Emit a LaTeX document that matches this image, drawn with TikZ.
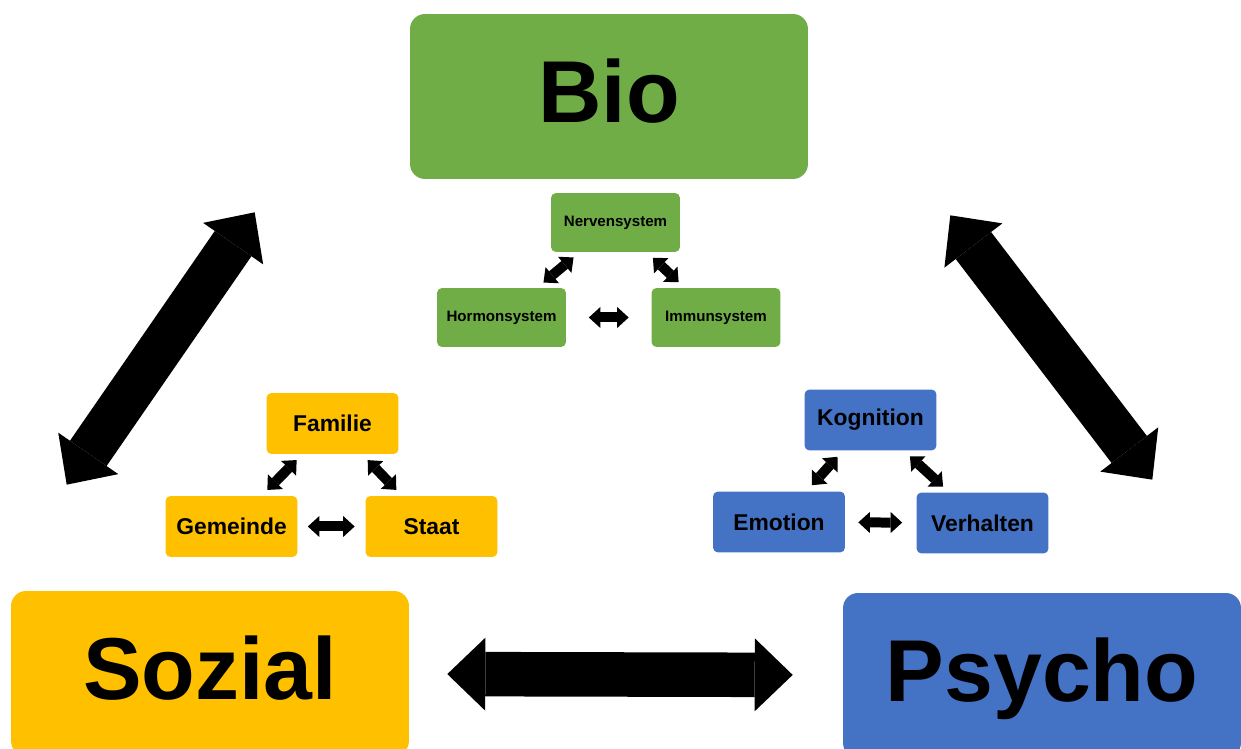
\documentclass[tikz,border=0pt]{standalone}
\usepackage{fontspec}
\setmainfont{Liberation Sans}
\usepackage{tikz}
\usetikzlibrary{arrows.meta, positioning}
\definecolor{biogreen}{RGB}{112,173,71}
\definecolor{sozgold}{RGB}{255,192,0}
\definecolor{psyblue}{RGB}{68,114,196}

\begin{document}
\begin{tikzpicture}[
   x=0.02cm, y=-0.02cm,
   big/.style={rounded corners=0.3cm, minimum width=7.96cm, minimum height=3.3cm,
               inner sep=0pt, text height=1.26cm, text depth=0.2cm,
               font=\fontsize{50}{60}\selectfont\bfseries},
   sub/.style={rounded corners=0.1cm, align=center, inner sep=0pt,
               minimum width=2.64cm, minimum height=1.22cm,
               font=\fontsize{13}{15}\selectfont\bfseries},
   biosub/.style={sub, fill=biogreen, minimum width=2.58cm, minimum height=1.18cm,
               font=\fontsize{8.6}{10}\selectfont\bfseries},
   bigarr/.style={line width=0.89cm,
               {Triangle[length=0.76cm, width=1.46cm, line width=0pt]}-{Triangle[length=0.76cm, width=1.46cm, line width=0pt]}},
   arr/.style={line width=0.2cm,
               {Triangle[length=0.23cm, width=0.42cm, line width=0pt]}-{Triangle[length=0.23cm, width=0.42cm, line width=0pt]},
               shorten <=0.16cm, shorten >=0.16cm}]

  \useasboundingbox (0,0) rectangle (1241,749);

  \node[big, fill=biogreen] (bio) at (609,96.5) {Bio};
  \node[big, fill=sozgold] (sozial) at (210,673.5) {Sozial};
  \node[big, fill=psyblue] (psycho) at (1042,675.5) {Psycho};

  \node[biosub] (nerven) at (615.5,222.5) {Nervensystem};
  \node[biosub] (hormon) at (501.5,317.5) {Hormonsystem};
  \node[biosub] (immun) at (716,317.5) {Immunsystem};

  \node[sub, fill=sozgold] (familie) at (332.5,423.5) {Familie};
  \node[sub, fill=sozgold] (gemeinde) at (231.5,526.5) {Gemeinde};
  \node[sub, fill=sozgold] (staat) at (431.5,526.5) {Staat};

  \node[sub, fill=psyblue] (kognition) at (870.5,420) {Kognition};
  \node[sub, fill=psyblue] (emotion) at (779,522) {Emotion};
  \node[sub, fill=psyblue] (verhalten) at (982.5,523) {Verhalten};

  \draw[bigarr] ([shift={(56,-106)}]sozial.north west) -- ([shift={(-155,33)}]bio.south west);
  \draw[bigarr] ([shift={(142,36)}]bio.south east) -- ([shift={(-89,-113)}]psycho.north east);
  \draw[bigarr, shorten <=0.76cm, shorten >=1cm] (sozial) -- (psycho);

  \draw[arr] (nerven) -- (hormon);
  \draw[arr] (nerven) -- (immun);
  \draw[arr, shorten <=0.45cm, shorten >=0.45cm] (hormon) -- (immun);

  \draw[arr] (familie) -- (gemeinde);
  \draw[arr] (familie) -- (staat);
  \draw[arr, shorten <=0.2cm, shorten >=0.21cm] (gemeinde) -- (staat);

  \draw[arr] (kognition) -- (emotion);
  \draw[arr] (kognition) -- (verhalten);
  \draw[arr, shorten <=0.26cm, shorten >=0.28cm] (emotion) -- (verhalten);
\end{tikzpicture}
\end{document}
